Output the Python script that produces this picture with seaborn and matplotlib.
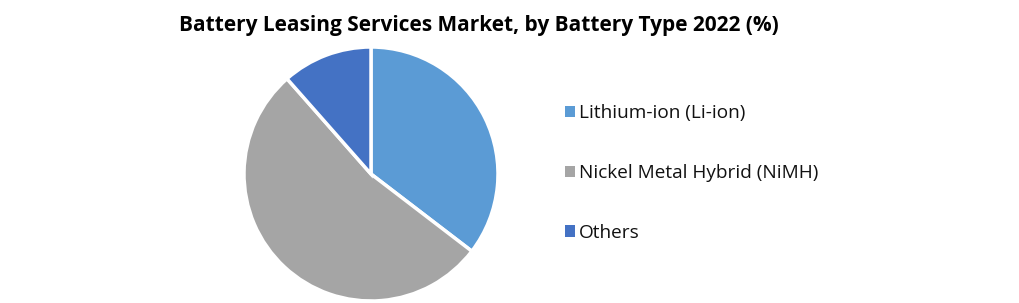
import matplotlib
matplotlib.use("Agg")
import matplotlib.pyplot as plt
import seaborn as sns
from matplotlib.patches import Patch

sns.set_theme(style="white")
plt.rcParams['font.family'] = ['Open Sans', 'DejaVu Sans']

categories = ["Lithium-ion (Li-ion)", "Nickel Metal Hybrid (NiMH)", "Others"]
values = [35.4, 53.1, 11.5]
colors = ["#5B9BD5", "#A5A5A5", "#4472C4"]
title = "Battery Leasing Services Market, by Battery Type 2022 (%)"

W, H = 1020, 303
fig = plt.figure(figsize=(W / 100, H / 100), dpi=100)
fig.patch.set_facecolor("white")

cx, cy, r = 371, 174, 127
ax = fig.add_axes([(cx - r) / W, (H - cy - r) / H, 2 * r / W, 2 * r / H])
wedges, _ = ax.pie(values, colors=colors, startangle=90, counterclock=False,
                   radius=1, wedgeprops=dict(edgecolor="white", linewidth=2.5))
ax.set_xlim(-1.0, 1.0)
ax.set_ylim(-1.0, 1.0)
ax.set_aspect("equal")
ax.axis("off")

fig.text(479 / W, 1 - 25 / H, title, ha="center", va="center",
         fontsize=15, fontweight="bold", color="black")

handles = [Patch(facecolor=c, edgecolor="none") for c in colors]
leg = fig.legend(handles, categories, loc="center left",
                 bbox_to_anchor=(555 / W, 1 - 173 / H), frameon=False,
                 fontsize=13.7, handlelength=0.55, handleheight=0.55,
                 handletextpad=0.2, labelspacing=2.2, borderpad=0)
for t in leg.get_texts():
    t.set_color("#111111")

fig.savefig("out.png", dpi=100, facecolor="white")
